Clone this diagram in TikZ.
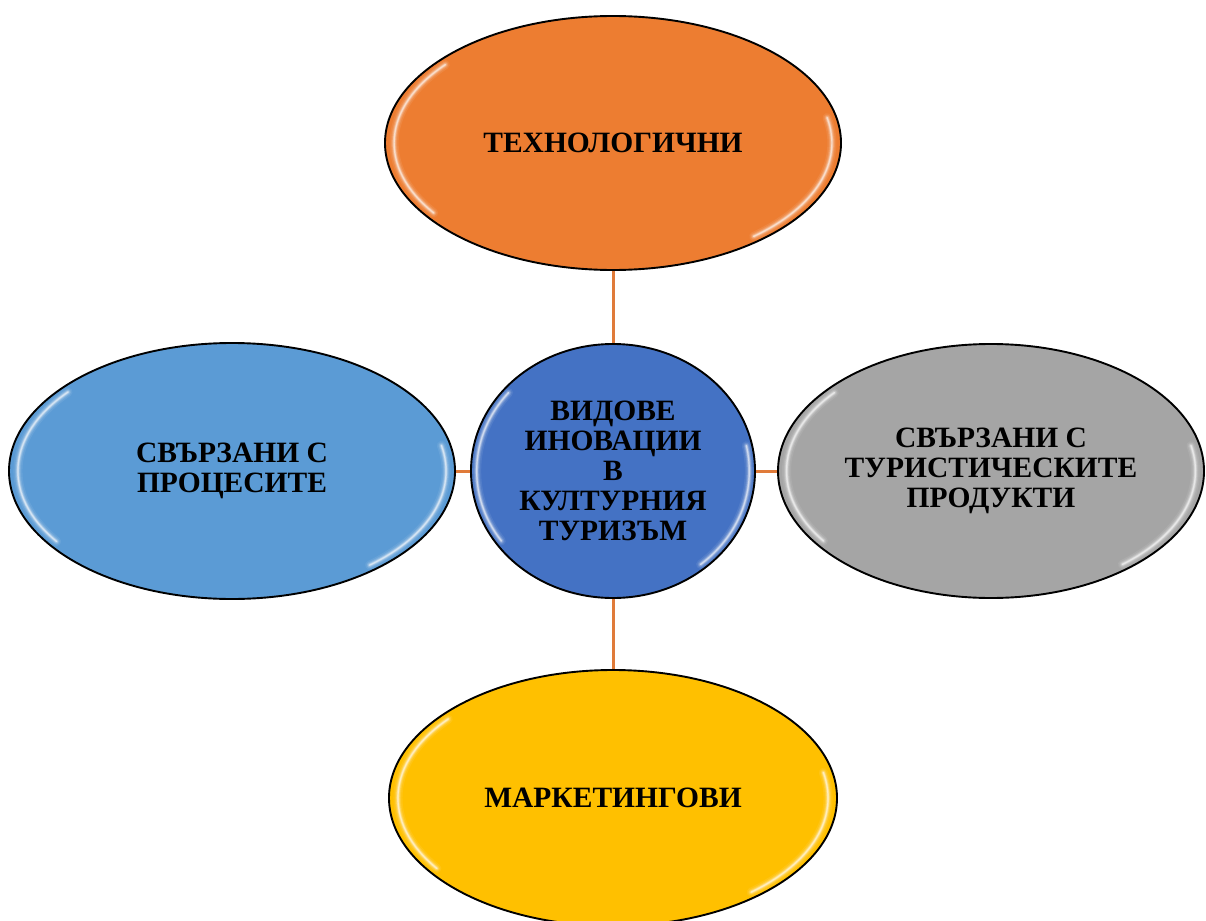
\documentclass[tikz,border=0pt]{standalone}
\usepackage{fontspec}
\setmainfont{Liberation Serif}
\usetikzlibrary{shapes.geometric,calc}
\definecolor{corange}{HTML}{ED7D31}
\definecolor{cblue}{HTML}{4472C4}
\definecolor{clblue}{HTML}{5B9BD5}
\definecolor{cgray}{HTML}{A5A5A5}
\definecolor{cyellow}{HTML}{FFC000}
\definecolor{cline}{HTML}{E07B3A}
\newcommand{\glossy}[3]{%
  \foreach \w/\o in {9/0.08,6/0.12,4/0.18,2.5/0.3,1.2/0.45}{%
    \draw[white,opacity=\o,line width=\w pt,line cap=round]
      ($(#1.center)+({0.96*#2*cos(140)},{0.96*#3*sin(140)})$)
      arc[start angle=140,end angle=215,x radius=0.96*#2,y radius=0.96*#3];
    \draw[white,opacity=\o,line width=\w pt,line cap=round]
      ($(#1.center)+({0.96*#2*cos(-50)},{0.96*#3*sin(-50)})$)
      arc[start angle=-50,end angle=12,x radius=0.96*#2,y radius=0.96*#3];
  }}
\begin{document}
\begin{tikzpicture}[x=1pt,y=1pt,
  bubble/.style={ellipse,draw=black,line width=1.9pt,inner sep=0pt,
    align=center,font=\fontsize{29.5}{30}\selectfont\bfseries},
  link/.style={draw=cline,line width=3pt}]
\useasboundingbox (0,0) rectangle (1206,-920);
\begin{scope}
\clip (0,0) rectangle (1206,-920);
\node[bubble,fill=corange,minimum width=456pt,minimum height=254pt] (tech) at (613,-143) {ТЕХНОЛОГИЧНИ};
\node[bubble,fill=cblue,minimum width=284pt,minimum height=254pt] (core) at (613,-471) {ВИДОВЕ\\ИНОВАЦИИ\\В\\КУЛТУРНИЯ\\ТУРИЗЪМ};
\node[bubble,fill=clblue,minimum width=446pt,minimum height=256pt] (proc) at (232,-471) {СВЪРЗАНИ С\\ПРОЦЕСИТЕ};
\node[bubble,fill=cgray,minimum width=426pt,minimum height=254pt] (prod) at (991,-471) {СВЪРЗАНИ С\\ТУРИСТИЧЕСКИТЕ\\ПРОДУКТИ};
\node[bubble,fill=cyellow,minimum width=448pt,minimum height=256pt] (mark) at (613,-798) {МАРКЕТИНГОВИ};
\glossy{tech}{228}{127}
\glossy{core}{142}{127}
\glossy{proc}{223}{128}
\glossy{prod}{213}{127}
\glossy{mark}{224}{128}
\draw[link] (tech.south) -- (core.north);
\draw[link] (core.south) -- (mark.north);
\draw[link] (proc.east) -- (core.west);
\draw[link] (core.east) -- (prod.west);
\end{scope}
\end{tikzpicture}
\end{document}
